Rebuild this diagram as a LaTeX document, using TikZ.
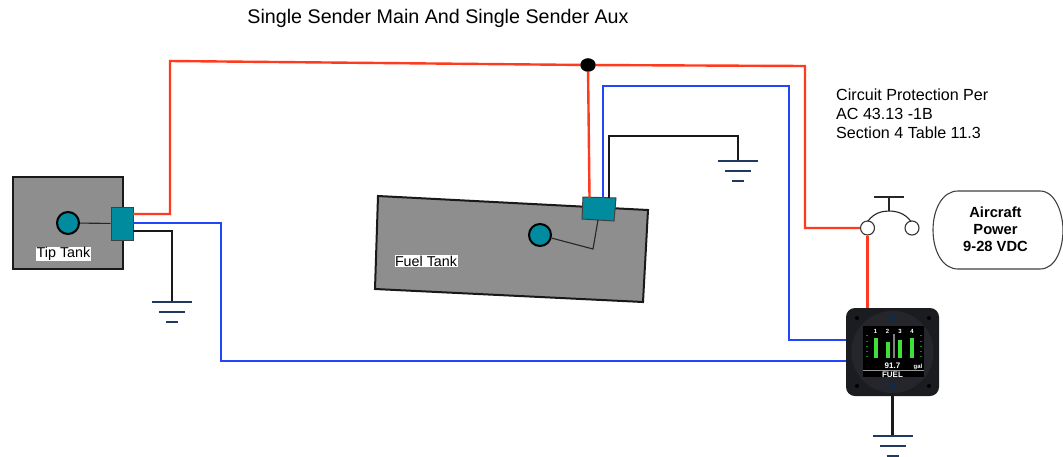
\documentclass[tikz,border=0pt]{standalone}
\usepackage{fontspec}
\usetikzlibrary{shapes.geometric}
\setmainfont{Liberation Sans}
\definecolor{tankgray}{HTML}{8E8E8E}
\definecolor{teal1}{HTML}{008C9E}
\definecolor{wred}{HTML}{FF3B1F}
\definecolor{wblue}{HTML}{1F45FF}
\definecolor{gnd}{HTML}{1F3A60}
\definecolor{instr}{HTML}{1A1C20}
\definecolor{bezel}{HTML}{24262B}
\definecolor{bargreen}{HTML}{3FE03A}
\tikzset{
 x=1pt,y=-1pt,
 tank/.style={draw=black!90,line width=2pt,fill=tankgray},
 sender/.style={draw=black!75,line width=1pt,fill=teal1},
 floatc/.style={circle,draw=black,line width=2pt,fill=teal1,minimum size=22pt,inner sep=0pt},
 redw/.style={draw=wred,line width=2.4pt},
 bluew/.style={draw=wblue,line width=2.4pt},
 blackw/.style={draw=black!90,line width=2.2pt},
 thinw/.style={draw=black!85,line width=1.1pt},
 gndw/.style={draw=gnd,line width=2pt},
 lbl/.style={font=\fontsize{16.1}{19}\selectfont,align=left,inner sep=0pt,anchor=west},
 taglbl/.style={font=\fontsize{14.3}{16}\selectfont,fill=white,inner sep=.5pt},
 term/.style={circle,draw=black!80,line width=1.1pt,fill=white,minimum size=14pt,inner sep=0pt},
 bar/.style={fill=bargreen,draw=none},
 scr/.style={text=white,inner sep=0pt,font=\bfseries\fontsize{8}{8}\selectfont},
}
\begin{document}
\begin{tikzpicture}
\useasboundingbox (0,0) rectangle (1063,456);
% title
\node[font=\fontsize{19.7}{22}\selectfont,inner sep=0pt] (title) at (438,18) {Single Sender Main And Single Sender Aux};
% tip tank
\draw[tank] (13,177) rectangle (123,269);
\node[floatc] (tipf) at (68,223) {};
\node[sender,minimum width=22pt,minimum height=33pt,inner sep=0pt] (tips) at (122,223.5) {};
\draw[thinw] (tipf) -- (tips);
\node[taglbl] (tipl) at (63.5,254) {Tip Tank};
% fuel tank
\draw[tank] (378,196) -- (648,210) -- (643,302) -- (375,289) -- cycle;
\node[taglbl] (fuell) at (426,261) {Fuel Tank};
\node[floatc] (fuelf) at (540,235) {};
\coordinate (bend) at (593,249);
\draw[sender,line join=miter] (583,197) -- (616,198) -- (614,221) -- (582,219) -- cycle;
\coordinate (fuels) at (598,220);
\draw[thinw] (fuelf) -- (bend) -- (fuels);
% junction and instrument
\node[ellipse,fill=black,draw=black,minimum width=15pt,minimum height=13pt,inner sep=0pt] (dot) at (588,65) {};
\node[term] (t1) at (867.5,228) {};
\node[term] (t2) at (912,228) {};
% red wires
\draw[redw,line join=miter] (133,214) -- (170,214) -- (170,61) -- (dot) -- (805,66) -- (805,228) -- (t1);
\draw[redw] (dot) -- (589.5,197.5);
\draw[redw] (t1) -- (867.5,308);
% blue wires
\draw[bluew] (133,223) -- (221,223) -- (221,361) -- (847,361);
\draw[bluew] (603,197.5) -- (603,86) -- (789,86) -- (789,340) -- (847,340);
% black wires
\coordinate (g1) at (172,302);
\coordinate (g2) at (738,160);
\coordinate (g3) at (892.5,436);
\draw[blackw] (133,231) -- (172,231) -- (g1);
\draw[blackw] (609,197.5) -- (609,136) -- (738,136) -- (g2);
\draw[blackw] (892.5,396) -- (g3);
% grounds
\foreach \g/\gx/\gy in {g1/172/302,g2/738/160.5,g3/892.5/436}{
 \draw[gndw] (\gx-20,\gy) -- (\gx+20,\gy);
 \draw[gndw] (\gx-13,\gy+10) -- (\gx+13,\gy+10);
 \draw[gndw] (\gx-6,\gy+20) -- (\gx+6,\gy+20);
}
% switch
\draw[thinw] (868,221) .. controls (874,213) and (882,211) .. (889,211) .. controls (896,211) and (905,213) .. (911,221.5);
\draw[thinw] (889,211) -- (889,197);
\draw[thinw] (874,197) -- (904,197);
% power
\draw[draw=black!75,line width=1.1pt,fill=white] (958,191) -- (1040,191) .. controls (1056,191) and (1063,215) .. (1063,230) .. controls (1063,248) and (1056,269) .. (1040,269) -- (958,269) .. controls (942,269) and (933,250) .. (933,230) .. controls (933,210) and (942,191) .. (958,191) -- cycle;
\node[font=\bfseries\fontsize{14.7}{17}\selectfont,align=center,inner sep=0pt] (power) at (995.5,229.5) {Aircraft\\Power\\9-28 VDC};
% notes
\node[lbl] (note) at (836,114) {Circuit Protection Per\\AC 43.13 -1B\\Section 4 Table 11.3};
% instrument
\draw[fill=instr,draw=none,rounded corners=9pt] (846,308) rectangle (939,396);
\fill[bezel] (892.5,352) circle (41);
\foreach \sx/\sy in {857/318,929/318,857/386,929/386}{\fill[black] (\sx,\sy) circle (2);}
\fill[gnd!70!black] (892.5,318) circle (4);
\fill[gnd!70!black] (892.5,386) circle (4);
\fill[black] (863,326) rectangle (924,377);
\fill[bar] (873.7,338) rectangle (878.3,358);
\fill[bar] (885.7,341.7) rectangle (890,358);
\fill[bar] (898,340) rectangle (902,358);
\fill[bar] (909.7,338) rectangle (914,358);
\fill[gray] (893.3,334) rectangle (894.6,358);
\foreach \n/\sx in {1/875.5,2/887.5,3/900,4/912}{\node[scr,font=\bfseries\fontsize{6}{6}\selectfont] at (\sx,331) {\n};}
\foreach \sy in {335,341,346,351,356}{\fill[green!60!black] (866,\sy) rectangle (867.5,\sy+1); \fill[green!60!black] (920,\sy) rectangle (921.5,\sy+1);}
\node[scr] at (892.5,365.5) {91.7};
\node[scr,font=\bfseries\fontsize{6}{6}\selectfont] at (918,367) {gal};
\fill[gray!80] (863,369.5) rectangle (924,371);
\node[scr] at (892.5,374.5) {FUEL};
\end{tikzpicture}
\end{document}
